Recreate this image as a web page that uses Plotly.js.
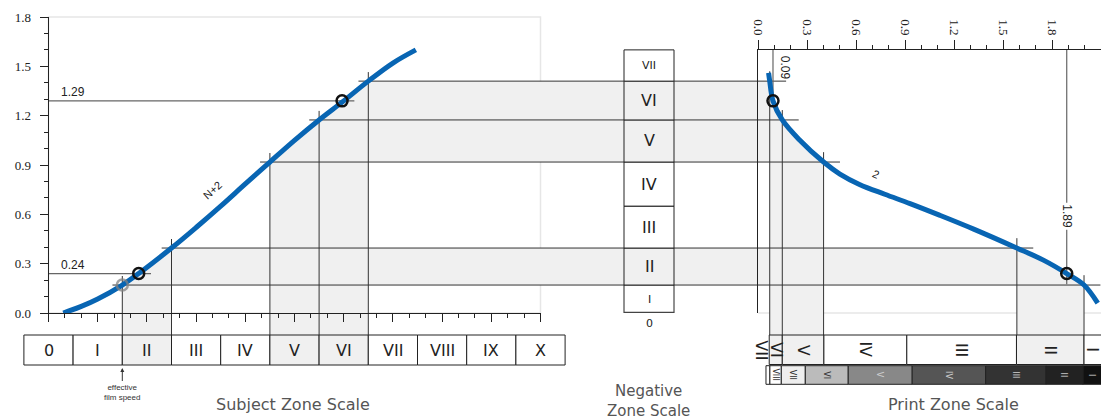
<!DOCTYPE html>
<html><head><meta charset="utf-8">
<script src="https://cdn.plot.ly/plotly-3.0.1.min.js"></script>
<style>html,body{margin:0;padding:0;background:#fff;}#chart{width:1101px;height:419px;}</style>
</head><body><div id="chart"></div>
<script>
// ---------------- data ----------------
const subjectZoneLabels = ['0','I','II','III','IV','V','VI','VII','VIII','IX','X'];
const subjectZoneStart  = [-0.15,0.15,0.45,0.75,1.05,1.35,1.65,1.95,2.25,2.55,2.85];
const subjectZoneEnd    = [0.15,0.45,0.75,1.05,1.35,1.65,1.95,2.25,2.55,2.85,3.15];
const shadedZones = ['II','V','VI'];

// negative characteristic curve (N+2): log exposure -> negative density
const negCurveLogE    = [0.09,0.2,0.3,0.45,0.55,0.75,0.9,1.05,1.2,1.35,1.5,1.65,1.8,1.95,2.1,2.24];
const negCurveDensity = [0.0,0.04,0.085,0.17,0.24,0.395,0.52,0.65,0.785,0.918,1.05,1.174,1.29,1.41,1.52,1.6];

// negative zone scale
const negZoneLabels = ['I','II','III','IV','V','VI','VII'];
const negZoneLow    = [0,0.17,0.395,0.65,0.918,1.174,1.41];
const negZoneHigh   = [0.17,0.395,0.65,0.918,1.174,1.41,1.6];

// paper curve (grade 2): print density -> negative density
const printCurveDensity    = [0.063,0.07,0.09,0.147,0.25,0.4,0.5,0.62,0.775,0.93,1.11,1.32,1.58,1.75,1.89,1.996,2.08];
const printCurveNegDensity = [1.46,1.41,1.29,1.174,1.055,0.918,0.845,0.782,0.722,0.665,0.595,0.51,0.397,0.32,0.24,0.17,0.06];

// print zone scale (row 1)
const printZoneLabels = ['VII','VI','V','IV','III','II','I'];
const printZoneStart  = [0,0.067,0.147,0.402,0.91,1.582,1.996];
const printZoneEnd    = [0.067,0.147,0.402,0.91,1.582,1.996,2.2];

// print step tablet (row 2)
const stepLabels = ['IX','VIII','VII','VI','V','IV','III','II','I'];
const stepStart  = [0.047,0.071,0.141,0.288,0.551,0.943,1.393,1.762,1.99];
const stepEnd    = [0.071,0.141,0.288,0.551,0.943,1.393,1.762,1.99,2.2];
const stepTone   = ['#ffffff','#ffffff','#eeeeee','#bbbbbb','#888888','#555555','#333333','#222222','#111111'];

// key points
const pointLogE    = [0.55,1.79];
const pointDensity = [0.24,1.29];
const pointPrint   = [1.89,0.09];
const filmSpeedLogE = [0.45];
const filmSpeedDensity = [0.17];

// ---------------- geometry ----------------
const W=1101, H=419;
const LX0=48.5, LX1=540.5, LY0=313, LY1=17;   // left chart box (px)
const RX0=758.3, RY1=50;                      // right chart
const kx=(LX1-LX0)/3, ky=(LY0-LY1)/1.8;
const kx3=(W-RX0)/2.1;
const rowTop=335, rowBot=365, row2Top=365.7, row2Bot=384.3;
const cx = px => (px-LX0)/kx;
const cy = py => (LY0-py)/ky;
const fromPrint = pd => cx(RX0+pd*kx3);
const SHADE='#f0f0f0', BLUE='#0865b3', INK='#222';

function interp(xs,ys,x){
  const n=xs.length, inc=xs[n-1]>xs[0];
  for(let i=0;i<n-1;i++){
    const a=xs[i], b=xs[i+1];
    if((inc&&x>=a&&x<=b)||(!inc&&x<=a&&x>=b)) return ys[i]+(ys[i+1]-ys[i])*(x-a)/(b-a);
  }
  return (inc? (x<xs[0]) : (x>xs[0])) ? ys[0] : ys[n-1];
}
const negAt = le => interp(negCurveLogE,negCurveDensity,le);
const printAt = d => interp(printCurveNegDensity,printCurveDensity,d);

const bot = cy(rowTop), topR = cy(RY1);

// shading polygons
const traces=[];
shadedZones.forEach(lab=>{
  const z=subjectZoneLabels.indexOf(lab);
  const a=subjectZoneStart[z], b=subjectZoneEnd[z];
  const d1=negAt(a), d2=negAt(b);
  const p2=printAt(d2), p1=printAt(d1);
  const xs=[a,a], ys=[bot,d1];
  negCurveLogE.forEach((x,i)=>{ if(x>a&&x<b){xs.push(x);ys.push(negCurveDensity[i]);} });
  xs.push(b, fromPrint(p2)); ys.push(d2, d2);
  printCurveDensity.forEach((p,i)=>{ if(p>p2&&p<p1){xs.push(fromPrint(p));ys.push(printCurveNegDensity[i]);} });
  xs.push(fromPrint(p1),fromPrint(p1),fromPrint(p2),fromPrint(p2),b,b);
  ys.push(d1,bot,bot,d1,d1,bot);
  traces.push({type:'scatter',mode:'lines',x:xs,y:ys,xaxis:'x',yaxis:'y',fill:'toself',fillcolor:SHADE,line:{width:0,color:SHADE},hoverinfo:'skip'});
});

// construction lines
const sx=[], sy=[];
const seg=(x1,y1,x2,y2)=>{sx.push(x1,x2,null);sy.push(y1,y2,null);};
const bounds=[...new Set(shadedZones.flatMap(l=>{const z=subjectZoneLabels.indexOf(l);return [subjectZoneStart[z],subjectZoneEnd[z]];}))].sort((a,b)=>a-b);
bounds.forEach(x=>{
  const d=negAt(x), p=printAt(d), X=fromPrint(p);
  seg(x,d+0.055,x,bot);
  seg(x-0.06,d,X+0.1,d);
  seg(X,d+0.06,X,bot);
});
traces.push({type:'scatter',mode:'lines',x:sx,y:sy,xaxis:'x',yaxis:'y',line:{color:'#333',width:1},hoverinfo:'skip',connectgaps:false});

const rx=[], ry=[];
pointLogE.forEach((le,i)=>{rx.push(0,le+0.075,null);ry.push(pointDensity[i],pointDensity[i],null);});
pointPrint.forEach((p,i)=>{rx.push(fromPrint(p),fromPrint(p),null);ry.push(topR,pointDensity[i]-(pointDensity[i]<0.5?0.065:0.03),null);});
traces.push({type:'scatter',mode:'lines',x:rx,y:ry,xaxis:'x',yaxis:'y',line:{color:'#666',width:1.2},hoverinfo:'skip'});
// double bottom rule of the negative zone column
traces.push({type:'scatter',mode:'lines',x:[0,1],y:[negZoneLow[0],negZoneLow[0]],xaxis:'x4',yaxis:'y2',line:{color:'#444',width:2.5},cliponaxis:false,hoverinfo:'skip'});

// curves
traces.push({type:'scatter',mode:'lines',x:negCurveLogE,y:negCurveDensity,xaxis:'x2',yaxis:'y2',line:{color:BLUE,width:5,shape:'spline',smoothing:1},hoverinfo:'skip'});
traces.push({type:'scatter',mode:'markers',x:filmSpeedLogE,y:filmSpeedDensity,xaxis:'x2',yaxis:'y2',marker:{symbol:'circle-open',size:11,color:'rgba(130,130,130,0.75)',line:{width:2.5}},cliponaxis:false,hoverinfo:'skip'});
traces.push({type:'scatter',mode:'markers',x:pointLogE,y:pointDensity,xaxis:'x2',yaxis:'y2',marker:{symbol:'circle-open',size:11,color:'#111',line:{width:2.5}},cliponaxis:false,hoverinfo:'skip'});
traces.push({type:'scatter',mode:'lines',x:printCurveDensity,y:printCurveNegDensity,xaxis:'x3',yaxis:'y3',line:{color:BLUE,width:5,shape:'spline',smoothing:1},hoverinfo:'skip'});
traces.push({type:'scatter',mode:'markers',x:pointPrint,y:pointDensity,xaxis:'x3',yaxis:'y3',marker:{symbol:'circle-open',size:11,color:'#111',line:{width:2.5}},cliponaxis:false,hoverinfo:'skip'});

// zone boxes
traces.push({type:'bar',orientation:'h',xaxis:'x5',yaxis:'y5',y:subjectZoneLabels.map(()=>0.5),
  x:subjectZoneEnd.map((e,i)=>e-subjectZoneStart[i]),base:subjectZoneStart,width:1,
  marker:{color:subjectZoneLabels.map(l=>shadedZones.includes(l)?SHADE:'#fff'),line:{color:INK,width:1}},hoverinfo:'skip'});
traces.push({type:'bar',xaxis:'x4',yaxis:'y2',x:negZoneLabels.map(()=>0.5),
  y:negZoneHigh.map((h,i)=>h-negZoneLow[i]),base:negZoneLow,width:1,
  marker:{color:negZoneLabels.map(l=>shadedZones.includes(l)?SHADE:'#fff'),line:{color:INK,width:1}},hoverinfo:'skip'});
traces.push({type:'bar',orientation:'h',xaxis:'x3',yaxis:'y6',y:printZoneLabels.map(()=>0.5),
  x:printZoneEnd.map((e,i)=>e-printZoneStart[i]),base:printZoneStart,width:1,
  marker:{color:printZoneLabels.map((l,i)=>i===0?'rgba(0,0,0,0)':(shadedZones.includes(l)?SHADE:'#fff')),
          line:{color:printZoneLabels.map((l,i)=>i===0?'rgba(0,0,0,0)':INK),width:1}},hoverinfo:'skip'});
traces.push({type:'bar',orientation:'h',xaxis:'x3',yaxis:'y7',y:stepLabels.map(()=>0.5),
  x:stepEnd.map((e,i)=>e-stepStart[i]),base:stepStart,width:1,
  marker:{color:stepTone,line:{color:INK,width:1}},hoverinfo:'skip'});

// ---------------- annotations ----------------
const ann=[];
const sans='DejaVu Sans';
subjectZoneLabels.forEach((l,i)=>ann.push({xref:'x5',yref:'y5',x:(subjectZoneStart[i]+subjectZoneEnd[i])/2,y:0.5,text:l,showarrow:false,font:{family:sans,size:16,color:INK}}));
negZoneLabels.forEach((l,i)=>{const hpx=(negZoneHigh[i]-negZoneLow[i])*ky;
  ann.push({xref:'x4',yref:'y2',x:0.5,y:(negZoneLow[i]+negZoneHigh[i])/2,text:l,showarrow:false,font:{family:sans,size:hpx>34?16:11,color:INK}});});
ann.push({xref:'x4',yref:'y2',x:0.5,y:0,yanchor:'top',yshift:-2,text:'0',showarrow:false,font:{family:sans,size:11,color:INK}});
printZoneLabels.forEach((l,i)=>ann.push({xref:'x3',yref:'y6',x:i===0?0.02:(printZoneStart[i]+Math.min(printZoneEnd[i],2.1))/2,y:0.5,text:l,textangle:90,showarrow:false,font:{family:sans,size:16,color:INK}}));
stepLabels.forEach((l,i)=>{ if(stepEnd[i]-stepStart[i]<0.05) return;
  ann.push({xref:'x3',yref:'y7',x:(stepStart[i]+Math.min(stepEnd[i],2.1))/2,y:0.5,text:l,textangle:90,showarrow:false,
    font:{family:sans,size:8,color:i<4?'#333':'#ccc'}});});
const titleFont={family:sans,size:16,color:'#555'};
ann.push({xref:'paper',yref:'paper',x:293/W,y:(H-404)/H,xanchor:'center',yanchor:'middle',text:'Subject Zone Scale',showarrow:false,font:titleFont});
ann.push({xref:'paper',yref:'paper',x:648/W,y:(H-401)/H,xanchor:'center',yanchor:'middle',text:'Negative<br>Zone Scale',showarrow:false,font:{family:sans,size:15,color:'#555'}});
ann.push({xref:'paper',yref:'paper',x:953/W,y:(H-404)/H,xanchor:'center',yanchor:'middle',text:'Print Zone Scale',showarrow:false,font:titleFont});
ann.push({xref:'x2',yref:'paper',x:filmSpeedLogE[0],y:(H-368)/H,ax:0,ay:24,text:'effective<br>film speed',showarrow:true,arrowhead:2,arrowsize:0.8,arrowwidth:1,arrowcolor:'#333',font:{family:'Liberation Sans',size:8,color:'#333'}});
pointDensity.forEach(d=>ann.push({xref:'x2',yref:'y2',x:0.15,y:d,yanchor:'bottom',text:d.toFixed(2),showarrow:false,font:{family:'Liberation Sans',size:12,color:INK}}));
ann.push({xref:'x3',yref:'y3',x:pointPrint[1]+0.075,y:1.49,text:pointPrint[1].toFixed(2),textangle:90,showarrow:false,font:{family:'Liberation Sans',size:12,color:INK}});
ann.push({xref:'x3',yref:'y3',x:pointPrint[0],y:0.59,text:pointPrint[0].toFixed(2),textangle:90,showarrow:false,bgcolor:'#fff',font:{family:'Liberation Sans',size:12,color:INK}});
ann.push({xref:'x2',yref:'y2',x:1.0,y:0.75,text:'N+2',textangle:-42,showarrow:false,font:{family:'Liberation Sans',size:11,color:INK}});
ann.push({xref:'x3',yref:'y3',x:0.72,y:0.845,text:'2',textangle:25,showarrow:false,font:{family:'Liberation Sans',size:11,color:INK}});

// ---------------- layout ----------------
const pad=2;
const rowDom=(t,b)=>[(H-b-pad)/H,(H-t+pad)/H];
const rowRange=(t,b)=>[-pad/(b-t),1+pad/(b-t)];
const tickFont={family:'"Liberation Serif", "DejaVu Serif", serif',size:13,color:INK};
const layout={
  width:W,height:H,margin:{l:0,r:0,t:0,b:0},paper_bgcolor:'#fff',plot_bgcolor:'rgba(0,0,0,0)',
  showlegend:false,barmode:'overlay',
  xaxis:{domain:[0,1],range:[cx(0),cx(W)],visible:false,fixedrange:true},
  yaxis:{domain:[0,1],range:[cy(H),cy(0)],visible:false,fixedrange:true},
  xaxis2:{domain:[LX0/W,LX1/W],range:[0,3],anchor:'y2',showline:true,linecolor:INK,linewidth:1,
    ticks:'outside',ticklen:8,tickcolor:INK,tick0:0,dtick:0.3,showticklabels:false,showgrid:false,zeroline:false,
    minor:{ticks:'outside',tick0:0,dtick:0.1,ticklen:4,tickcolor:INK,showgrid:false}},
  yaxis2:{domain:[(H-LY0)/H,(H-LY1)/H],range:[0,1.8],anchor:'x2',showline:true,linecolor:INK,linewidth:1,
    ticks:'outside',ticklen:8,tickcolor:INK,tick0:0,dtick:0.3,tickformat:'.1f',tickfont:tickFont,ticklabelstandoff:6,
    showgrid:false,zeroline:false,minor:{ticks:'outside',tick0:0,dtick:0.1,ticklen:4,tickcolor:INK,showgrid:false}},
  xaxis3:{domain:[RX0/W,1],range:[0,2.1],anchor:'y3',side:'top',showline:true,linecolor:INK,linewidth:1,
    ticks:'outside',ticklen:9,tickcolor:INK,tick0:0,dtick:0.3,tickformat:'.1f',tickangle:90,tickfont:tickFont,
    showgrid:false,zeroline:false,minor:{ticks:'outside',tick0:0,dtick:0.1,ticklen:4,tickcolor:INK,showgrid:false}},
  yaxis3:{domain:[(H-LY0)/H,(H-RY1)/H],range:[0,(LY0-RY1)/ky],anchor:'x3',showline:true,linecolor:INK,linewidth:1,
    ticks:'',showticklabels:false,showgrid:false,zeroline:false},
  xaxis4:{domain:[622/W,676/W],range:[-0.04,1.04],anchor:'y2',visible:false,fixedrange:true},
  xaxis5:{domain:[(LX0+(-0.15-pad/kx)*kx)/W,(LX0+(3.15+pad/kx)*kx)/W],range:[-0.15-pad/kx,3.15+pad/kx],anchor:'y5',visible:false},
  yaxis5:{domain:rowDom(rowTop,rowBot),range:rowRange(rowTop,rowBot),anchor:'x5',visible:false},
  yaxis6:{domain:rowDom(rowTop,364.5),range:rowRange(rowTop,364.5),anchor:'x3',visible:false},
  yaxis7:{domain:rowDom(row2Top,row2Bot),range:rowRange(row2Top,row2Bot),anchor:'x3',visible:false},
  shapes:[
    {type:'rect',xref:'x2 domain',yref:'y2 domain',x0:0,x1:1,y0:0,y1:1,line:{color:'#e6e6e6',width:1.5},layer:'below'},
    {type:'line',xref:'x3 domain',yref:'y3 domain',x0:0,x1:1,y0:0,y1:0,line:{color:'#e6e6e6',width:1.5},layer:'below'}
  ],
  annotations:ann
};
Plotly.newPlot('chart',traces,layout,{displayModeBar:false,staticPlot:true});
</script></body></html>
